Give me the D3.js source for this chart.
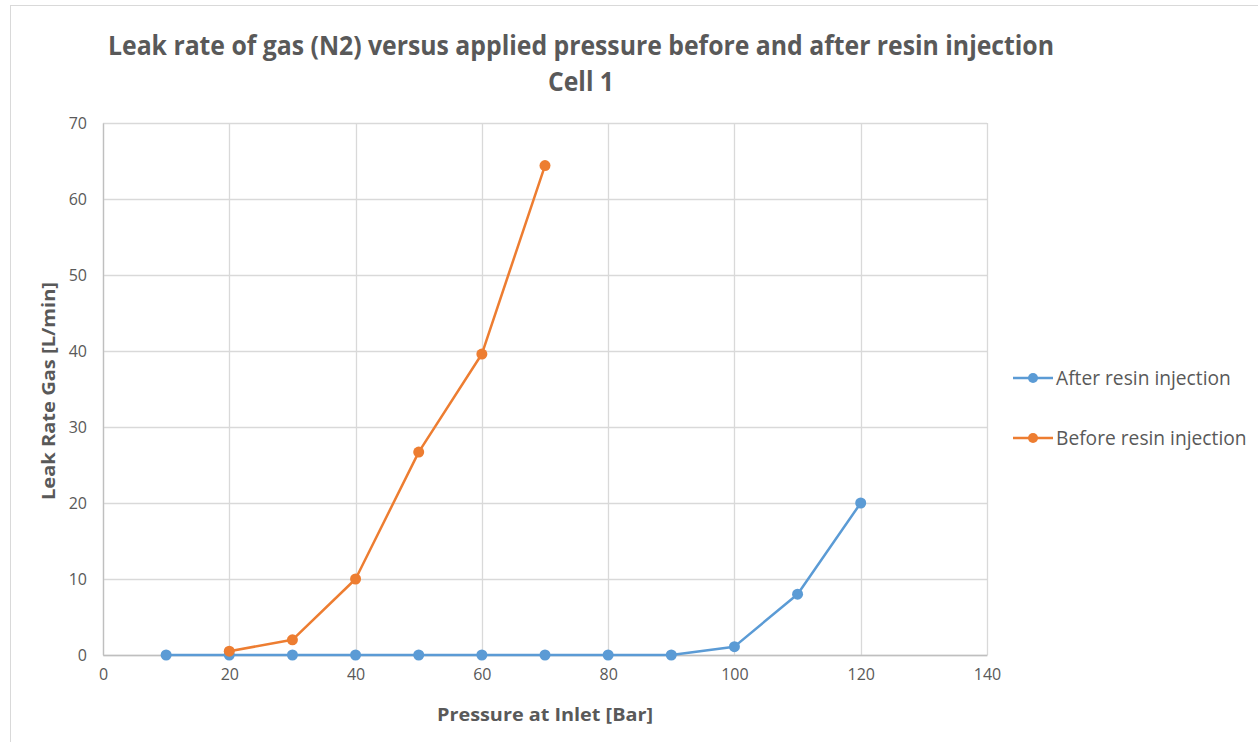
<!DOCTYPE html>
<html>
<head>
<meta charset="utf-8">
<script src="https://cdn.jsdelivr.net/npm/d3@7/dist/d3.min.js"></script>
<style>
html,body{margin:0;padding:0;background:#fff;}
svg{display:block;}
</style>
</head>
<body>
<svg id="chart" width="1258" height="742"></svg>
<script>
const titleLines = ["Leak rate of gas (N2) versus applied pressure before and after resin injection", "Cell 1"];
const xTitle = "Pressure at Inlet [Bar]";
const yTitle = "Leak Rate Gas [L/min]";
const xTicks = [0, 20, 40, 60, 80, 100, 120, 140];
const yTicks = [0, 10, 20, 30, 40, 50, 60, 70];
const afterX = [10, 20, 30, 40, 50, 60, 70, 80, 90, 100, 110, 120];
const afterY = [0, 0, 0, 0, 0, 0, 0, 0, 0, 1.1, 8, 20];
const beforeX = [20, 30, 40, 50, 60, 70];
const beforeY = [0.5, 2, 10, 26.7, 39.6, 64.4];
const seriesNames = ["After resin injection", "Before resin injection"];
const seriesColors = ["#5B9BD5", "#ED7D31"];

const svg = d3.select("#chart");
const font = "'Open Sans', 'Noto Sans', sans-serif";
const textColor = "#595959";

// outer chart border
svg.append("rect").attr("x", 10.5).attr("y", 5.5).attr("width", 1260).attr("height", 760)
  .attr("fill", "#fff").attr("stroke", "#d9d9d9").attr("stroke-width", 1);

const x = d3.scaleLinear().domain([0, 140]).range([103, 987]);
const y = d3.scaleLinear().domain([0, 70]).range([655, 123]);

// gridlines
svg.append("g").selectAll("line.h").data(yTicks).join("line")
  .attr("x1", x(0)).attr("x2", x(140))
  .attr("y1", d => Math.round(y(d)) + 0.5).attr("y2", d => Math.round(y(d)) + 0.5)
  .attr("stroke", "#d9d9d9").attr("stroke-width", 1.3);
svg.append("g").selectAll("line.v").data(xTicks).join("line")
  .attr("y1", y(0)).attr("y2", y(70))
  .attr("x1", d => Math.round(x(d)) + 0.5).attr("x2", d => Math.round(x(d)) + 0.5)
  .attr("stroke", "#d9d9d9").attr("stroke-width", 1.3);

// axes (labels only)
const xAxis = d3.axisBottom(x).tickValues(xTicks).tickSize(0).tickPadding(14);
const gx = svg.append("g").attr("transform", `translate(0,${y(0)})`).call(xAxis);
gx.select(".domain").attr("stroke", "#bfbfbf").attr("stroke-width", 1.3);
gx.selectAll("text").attr("fill", textColor).style("font-family", font).style("font-size", "16px");

const yAxis = d3.axisLeft(y).tickValues(yTicks).tickSize(0).tickPadding(16);
const gy = svg.append("g").attr("transform", `translate(${x(0)},0)`).call(yAxis);
gy.select(".domain").attr("stroke", "#bfbfbf").attr("stroke-width", 1.3);
gy.selectAll("text").attr("fill", textColor).style("font-family", font).style("font-size", "16px");

// series
const series = [
  {name: seriesNames[0], color: seriesColors[0], pts: afterX.map((v, i) => [v, afterY[i]])},
  {name: seriesNames[1], color: seriesColors[1], pts: beforeX.map((v, i) => [v, beforeY[i]])}
];
const line = d3.line().x(d => x(d[0])).y(d => y(d[1]));
series.forEach(s => {
  const g = svg.append("g");
  g.append("path").attr("d", line(s.pts)).attr("fill", "none")
    .attr("stroke", s.color).attr("stroke-width", 2.5).attr("stroke-linejoin", "round");
  g.selectAll("circle").data(s.pts).join("circle")
    .attr("cx", d => x(d[0])).attr("cy", d => y(d[1])).attr("r", 5.5)
    .attr("fill", s.color);
});

// legend
const legendY = [378, 438];
series.forEach((s, i) => {
  const g = svg.append("g").attr("transform", `translate(1013,${legendY[i]})`);
  g.append("line").attr("x1", 0).attr("x2", 40).attr("y1", 0).attr("y2", 0)
    .attr("stroke", s.color).attr("stroke-width", 2.5);
  g.append("circle").attr("cx", 20).attr("cy", 0).attr("r", 5).attr("fill", s.color);
  g.append("text").attr("x", 43).attr("y", 0).attr("dy", "0.35em")
    .attr("fill", textColor).style("font-family", font).style("font-size", "19.2px")
    .text(s.name);
});

// titles
svg.append("text").attr("x", 581).attr("y", 55).attr("text-anchor", "middle")
  .attr("fill", textColor).style("font-family", font).style("font-size", "26px").style("font-weight", "bold")
  .attr("textLength", 946).attr("lengthAdjust", "spacingAndGlyphs")
  .text(titleLines[0]);
svg.append("text").attr("x", 581).attr("y", 91).attr("text-anchor", "middle")
  .attr("fill", textColor).style("font-family", font).style("font-size", "26px").style("font-weight", "bold")
  .attr("textLength", 66).attr("lengthAdjust", "spacingAndGlyphs")
  .text(titleLines[1]);

svg.append("text").attr("x", 545).attr("y", 721).attr("text-anchor", "middle")
  .attr("fill", textColor).style("font-family", font).style("font-size", "18px").style("font-weight", "bold")
  .attr("textLength", 216).attr("lengthAdjust", "spacingAndGlyphs")
  .text(xTitle);
svg.append("text").attr("transform", "translate(55,391) rotate(-90)").attr("text-anchor", "middle")
  .attr("fill", textColor).style("font-family", font).style("font-size", "18px").style("font-weight", "bold")
  .attr("textLength", 218).attr("lengthAdjust", "spacingAndGlyphs")
  .text(yTitle);
</script>
</body>
</html>
